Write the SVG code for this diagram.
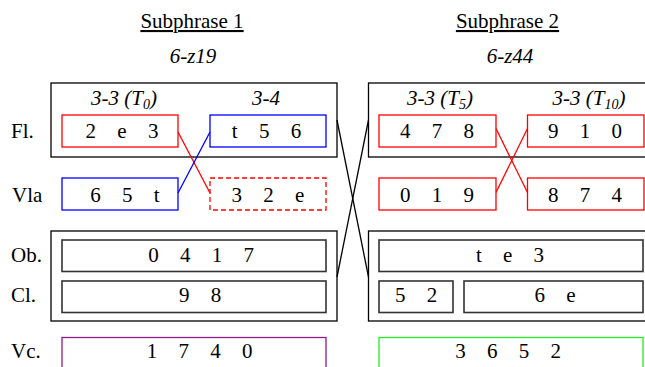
<svg xmlns="http://www.w3.org/2000/svg" width="645" height="367" viewBox="0 0 645 367">
<style>
text{font-family:"Liberation Serif","Times New Roman",serif;font-size:21px;fill:#000}
.t{text-anchor:middle}
.i{font-style:italic;text-anchor:middle}
.u{text-decoration:underline}
.n{text-anchor:middle;word-spacing:16px}
.lab{text-anchor:start}
.outer{fill:none;stroke:#000;stroke-width:1.3}
.inner{fill:none;stroke:#333;stroke-width:1.6}
.red{fill:none;stroke:#f00;stroke-width:1.3}
.redd{fill:none;stroke:#f00;stroke-width:1.3;stroke-dasharray:5,3}
.blue{fill:none;stroke:#00f;stroke-width:1.3}
.purple{fill:none;stroke:#8b1a8b;stroke-width:1.3}
.green{fill:none;stroke:#22ee22;stroke-width:1.3}
.cr{stroke:#f00;stroke-width:1.3;fill:none}
.cb{stroke:#00f;stroke-width:1.3;fill:none}
.ck{stroke:#000;stroke-width:1.3;fill:none}
</style>
<g id="titles">
<text class="t u" x="192" y="28">Subphrase 1</text>
<text class="i" x="193" y="63">6-z19</text>
<text class="t u" x="507.5" y="28">Subphrase 2</text>
<text class="i" x="510" y="63">6-z44</text>
</g>
<g id="row-labels">
<text class="lab" x="11" y="138">Fl.</text>
<text class="lab" x="12" y="201.7">Vla</text>
<text class="lab" x="11" y="261.7">Ob.</text>
<text class="lab" x="11" y="301.7">Cl.</text>
<text class="lab" x="11" y="357.5">Vc.</text>
</g>
<g id="group-s1-top">
<rect class="outer" x="51" y="83" width="286" height="74"/>
<text class="i" x="124" y="105">3-3 (T<tspan font-size="14" dy="4">0</tspan><tspan dy="-4">)</tspan></text>
<text class="i" x="266" y="105">3-4</text>
</g>
<g id="group-s1-bottom">
<rect class="outer" x="51" y="231" width="286" height="90"/>
</g>
<g id="group-s2-top">
<rect class="outer" x="368.5" y="83" width="290" height="74"/>
<text class="i" x="440" y="105">3-3 (T<tspan font-size="14" dy="4">5</tspan><tspan dy="-4">)</tspan></text>
<text class="i" x="589" y="105">3-3 (T<tspan font-size="14" dy="4">10</tspan><tspan dy="-4">)</tspan></text>
</g>
<g id="group-s2-bottom">
<rect class="outer" x="368.5" y="231" width="290" height="90"/>
</g>
<g id="connectors">
<line class="cr" x1="178" y1="132" x2="210" y2="193"/>
<line class="cb" x1="178" y1="193" x2="210" y2="132"/>
<line class="cr" x1="496" y1="128.5" x2="527.5" y2="192.5"/>
<line class="cr" x1="496" y1="192.5" x2="527.5" y2="128.5"/>
<line class="ck" x1="337" y1="120" x2="368.5" y2="277"/>
<line class="ck" x1="368.5" y1="120" x2="337" y2="277"/>
</g>
<g id="fl-1">
<rect class="red" x="62" y="115" width="116" height="32"/>
<text class="n" x="122" y="138">2 e 3</text>
</g>
<g id="fl-2">
<rect class="blue" x="210" y="115" width="116" height="32"/>
<text class="n" x="266.5" y="138">t 5 6</text>
</g>
<g id="vla-1">
<rect class="blue" x="62" y="178" width="116" height="32"/>
<text class="n" x="125" y="201.7">6 5 t</text>
</g>
<g id="vla-2">
<rect class="redd" x="210" y="178" width="116" height="32"/>
<text class="n" x="268" y="201.7">3 2 e</text>
</g>
<g id="ob-1">
<rect class="inner" x="62" y="240" width="264" height="31.5"/>
<text class="n" x="201" y="261.7">0 4 1 7</text>
</g>
<g id="cl-1">
<rect class="inner" x="62" y="281" width="264" height="31.5"/>
<text class="n" x="200" y="301.7">9 8</text>
</g>
<g id="vc-1">
<rect class="purple" x="62" y="337.5" width="264" height="40"/>
<text class="n" x="199.5" y="357.5">1 7 4 0</text>
</g>
<g id="fl-3">
<rect class="red" x="379" y="115" width="117" height="32"/>
<text class="n" x="437" y="138">4 7 8</text>
</g>
<g id="fl-4">
<rect class="red" x="527.5" y="115" width="116.5" height="32"/>
<text class="n" x="585" y="138">9 1 0</text>
</g>
<g id="vla-3">
<rect class="red" x="379" y="178" width="117" height="32"/>
<text class="n" x="437" y="201.7">0 1 9</text>
</g>
<g id="vla-4">
<rect class="red" x="527.5" y="178" width="116.5" height="32"/>
<text class="n" x="585" y="201.7">8 7 4</text>
</g>
<g id="ob-2">
<rect class="inner" x="379" y="240" width="264" height="31.5"/>
<text class="n" x="510" y="261.7">t e 3</text>
</g>
<g id="cl-2">
<rect class="inner" x="379" y="281" width="74" height="31.5"/>
<text class="n" x="416" y="301.7">5 2</text>
</g>
<g id="cl-3">
<rect class="inner" x="464" y="281" width="179" height="31.5"/>
<text class="n" x="555" y="301.7">6 e</text>
</g>
<g id="vc-2">
<rect class="green" x="379" y="337.5" width="264" height="40"/>
<text class="n" x="508" y="357.5">3 6 5 2</text>
</g>
</svg>
